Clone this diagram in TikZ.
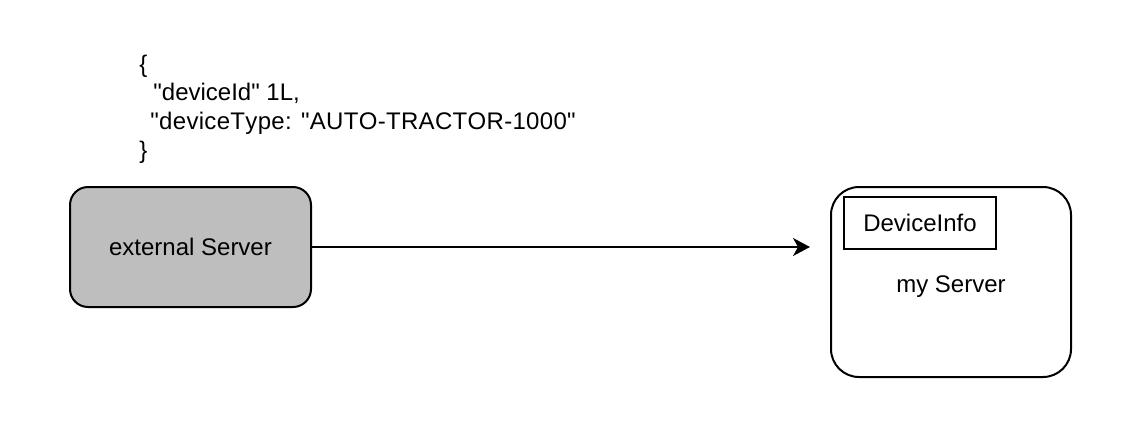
\documentclass[tikz,border=0pt]{standalone}
\usepackage{fontspec}
\setmainfont{Liberation Sans}[Ligatures=TeXOff, Kerning=Off]
\usetikzlibrary{arrows.meta}
\definecolor{srvgray}{HTML}{BEBEBE}

\begin{document}
\begin{tikzpicture}[x=1pt, y=1pt,
  every node/.style={font=\fontsize{12pt}{14pt}\selectfont},
  srvbox/.style={draw, line width=1pt, minimum width=120pt, align=center}]
\useasboundingbox (0,0) rectangle (572,-223);

\node[srvbox, rounded corners=9pt, fill=srvgray, minimum width=120.5pt, minimum height=60pt] (ext) at (95.25,-123.5) {external Server};
\node[srvbox, rounded corners=14pt, minimum height=95pt, text height=12.5pt, text depth=2.5pt] (my) at (475.5,-141) {my Server};
\node[draw, line width=1pt, minimum width=76pt, minimum height=26pt] (info) at (460,-111.5) {DeviceInfo};
\node[anchor=west, align=left, inner sep=0pt] (json) at (69.5,-54.5)
  {\{\\[0.3pt]\hspace{7pt}"deviceId" 1L,\\[0.3pt]\hspace{5.5pt}{\addfontfeatures{LetterSpace=1.3}"deviceType: "AUTO-TRACTOR-1000"}\\[0.3pt]\}};

\coordinate (tip) at (405,-123.5);
\draw[line width=1pt, -{Stealth[length=8.5pt, width=9pt, inset=2.5pt]}] (ext) -- (tip);
\end{tikzpicture}
\end{document}
